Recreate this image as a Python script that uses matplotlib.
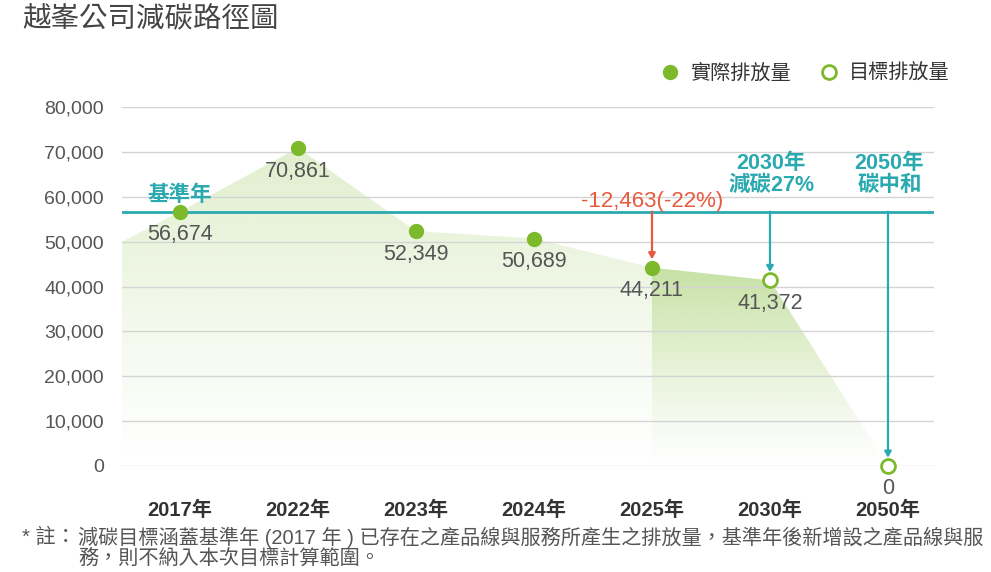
import numpy as np
import matplotlib
matplotlib.use('Agg')
import matplotlib.pyplot as plt
from matplotlib.patches import Polygon
from matplotlib.lines import Line2D
from matplotlib.colors import to_rgb

plt.rcParams['font.family'] = ['Liberation Sans', 'Noto Sans CJK TC', 'DejaVu Sans']

# data
years = ['2017年', '2022年', '2023年', '2024年', '2025年', '2030年', '2050年']
actual = [56674, 70861, 52349, 50689, 44211]      # 2017-2025
target = [41372, 0]                               # 2030, 2050
base_value = 56674
fill_left = 50000                                 # where the decorative area starts at the left edge
y_ticks = [0, 10000, 20000, 30000, 40000, 50000, 60000, 70000, 80000]

title = '越峯公司減碳路徑圖'
note1 = '減碳目標涵蓋基準年 (2017 年 ) 已存在之產品線與服務所產生之排放量，基準年後新增設之產品線與服'
note2 = '務，則不納入本次目標計算範圍。'

GREEN = '#7CBA2C'
TEAL = '#2AAAB0'
RED = '#E85A3E'
GRAY = '#555555'

W, H = 991, 572
fig = plt.figure(figsize=(W / 100, H / 100), dpi=100)
ax = fig.add_axes([122 / W, 1 - 466 / H, 812 / W, 359 / H])

x_act = np.arange(len(actual))
x_tgt = np.arange(len(actual), len(years))
x_left, x_right = -0.4915, 6.39


def gradient_fill(xs, ys, color, top_alpha):
    verts = [(xs[0], 0)] + list(zip(xs, ys)) + [(xs[-1], 0)]
    poly = Polygon(verts, closed=True, facecolor='none', edgecolor='none')
    ax.add_patch(poly)
    rgba = np.zeros((256, 1, 4))
    rgba[:, :, :3] = to_rgb(color)
    rgba[:, 0, 3] = np.linspace(top_alpha, 0, 256) ** 1.2
    im = ax.imshow(rgba, extent=(min(xs), max(xs), 0, max(ys)), origin='upper',
                   aspect='auto', zorder=0.2, interpolation='bilinear')
    im.set_clip_path(poly)


# light area up to 2025, darker area from 2025 on
gradient_fill([x_left] + list(x_act), [fill_left] + actual, GREEN, 0.30)
gradient_fill([x_act[-1]] + list(x_tgt), [actual[-1]] + target, GREEN, 0.50)
ax.set_xlim(x_left, x_right)
ax.set_ylim(0, 80000)

# grid
ax.set_yticks(y_ticks)
ax.set_yticklabels([f'{v:,}' for v in y_ticks], fontsize=14, color=GRAY)
ax.yaxis.grid(True, color='#D4D4D4', linewidth=1)
ax.set_axisbelow(True)
ax.tick_params(axis='y', length=0, pad=13)
ax.set_xticks(range(len(years)))
ax.set_xticklabels(years, fontsize=14.5, fontweight='bold', color='#333333')
ax.tick_params(axis='x', length=0, pad=25)
for s in ax.spines.values():
    s.set_visible(False)

# base year line
ax.axhline(base_value, color=TEAL, linewidth=2, zorder=2)

# markers
ax.plot(x_act, actual, 'o', color=GREEN, markersize=10, linestyle='none', zorder=4, clip_on=False)
ax.plot(x_tgt, target, 'o', markerfacecolor='white', markeredgecolor=GREEN, markeredgewidth=2,
        markersize=10, linestyle='none', zorder=4, clip_on=False)

# value labels
for x, v in zip(list(x_act) + list(x_tgt), actual + target):
    ax.annotate(f'{v:,}', (x, v), xytext=(0, -9), textcoords='offset points',
                ha='center', va='top', fontsize=15.5, color=GRAY, zorder=5)

# arrows from base line
arrow_kw = dict(arrowstyle='-|>,head_length=0.35,head_width=0.2', linewidth=1.6, shrinkA=0, shrinkB=6)
ax.annotate('', xy=(x_act[-1], actual[-1]), xytext=(x_act[-1], base_value),
            arrowprops=dict(color=RED, **arrow_kw), zorder=3)
for x, v in zip(x_tgt, target):
    ax.annotate('', xy=(x, v), xytext=(x, base_value),
                arrowprops=dict(color=TEAL, **arrow_kw), zorder=3)

# annotations
diff = actual[-1] - base_value
ax.annotate(f'{diff:,}({diff / base_value:.0%})', (x_act[-1], base_value), xytext=(0, 7),
            textcoords='offset points', ha='center', va='center', fontsize=16, color=RED)
ax.annotate('基準年', (x_act[0], base_value), xytext=(0, 12), textcoords='offset points',
            ha='center', va='center', fontsize=15.5, fontweight='bold', color=TEAL)
cut_2030 = 1 - target[0] / base_value
ax.annotate(f'2030年\n減碳{cut_2030:.0%}', (x_tgt[0], base_value), xytext=(1, 11),
            textcoords='offset points', ha='center', va='bottom', fontsize=15.5,
            fontweight='bold', color=TEAL, linespacing=1.1)
ax.annotate('2050年\n碳中和', (x_tgt[1], base_value), xytext=(1, 11),
            textcoords='offset points', ha='center', va='bottom', fontsize=15.5,
            fontweight='bold', color=TEAL, linespacing=1.1)

# legend
handles = [Line2D([], [], marker='o', linestyle='none', color=GREEN, markersize=10),
           Line2D([], [], marker='o', linestyle='none', markerfacecolor='white',
                  markeredgecolor=GREEN, markeredgewidth=2, markersize=10)]
fig.legend(handles, ['實際排放量', '目標排放量'], loc='center right',
           bbox_to_anchor=(968 / W, 1 - 73 / H), ncol=2, frameon=False,
           fontsize=14.5, handletextpad=0.0, columnspacing=0.9, labelcolor='#333333')

# title and footnote
fig.text(22 / W, 1 - 20 / H, title, fontsize=20.5, color='#444444', ha='left', va='center')
fig.text(22 / W, 1 - 537 / H, '* 註：', fontsize=14.5, color=GRAY, ha='left', va='center')
fig.text(78 / W, 1 - 537 / H, note1, fontsize=14.5, color=GRAY, ha='left', va='center')
fig.text(78 / W, 1 - 558 / H, note2, fontsize=14.5, color=GRAY, ha='left', va='center')

fig.savefig('out.png', dpi=100)
